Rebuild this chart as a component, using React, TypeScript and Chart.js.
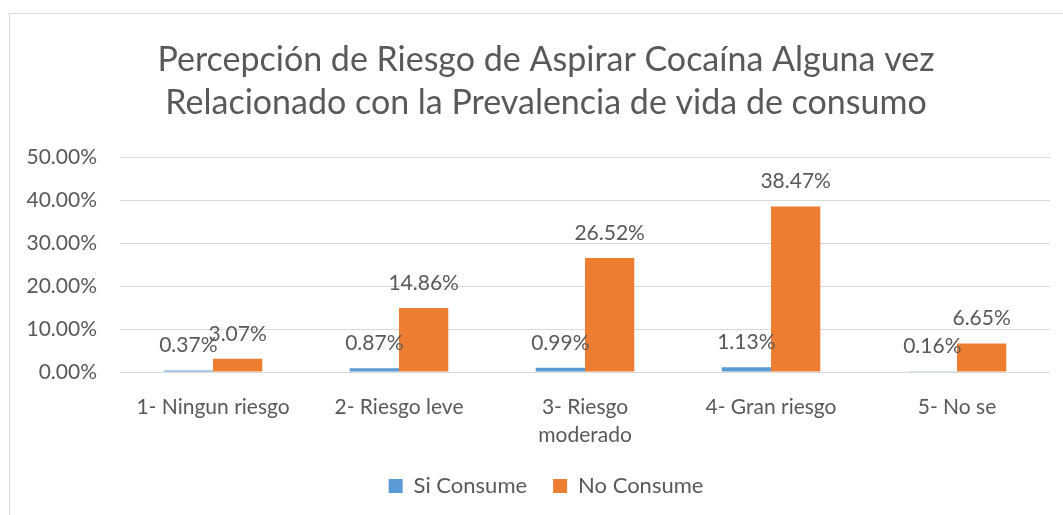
import React, { useEffect, useRef } from "react";
import { Chart, registerables } from "chart.js";

Chart.register(...registerables);

const categories: (string | string[])[] = [
  "1- Ningun riesgo",
  "2- Riesgo leve",
  ["3- Riesgo", "moderado"],
  "4- Gran riesgo",
  "5- No se",
];
const siConsume = [0.37, 0.87, 0.99, 1.13, 0.16];
const noConsume = [3.07, 14.86, 26.52, 38.47, 6.65];
const seriesNames = ["Si Consume", "No Consume"];
const titleLines = [
  "Percepción de Riesgo de Aspirar Cocaína Alguna vez",
  "Relacionado con la Prevalencia de vida de consumo",
];
const yMin = 0;
const yMax = 50;
const yStep = 10;

const FONT = "Lato, 'Open Sans', sans-serif";
const TEXT = "#595959";
const GRID = "#d9d9d9";
const BLUE = "#5B9BD5";
const ORANGE = "#ED7D31";

const valueLabels = {
  id: "valueLabels",
  afterDatasetsDraw(chart: any) {
    const ctx = chart.ctx;
    ctx.save();
    ctx.font = `21px ${FONT}`;
    ctx.fillStyle = TEXT;
    ctx.textAlign = "center";
    ctx.textBaseline = "middle";
    chart.data.datasets.forEach((ds: any, di: number) => {
      const meta = chart.getDatasetMeta(di);
      meta.data.forEach((el: any, i: number) => {
        ctx.fillText(`${Number(ds.data[i]).toFixed(2)}%`, el.x, el.y - 25);
      });
    });
    ctx.restore();
  },
};

export default function App() {
  const ref = useRef<HTMLCanvasElement | null>(null);

  useEffect(() => {
    if (!ref.current) return;
    const chart = new Chart(ref.current, {
      type: "bar",
      data: {
        labels: categories as any,
        datasets: [
          {
            label: seriesNames[0],
            data: siConsume,
            backgroundColor: BLUE,
            categoryPercentage: 0.53,
            barPercentage: 1,
          },
          {
            label: seriesNames[1],
            data: noConsume,
            backgroundColor: ORANGE,
            categoryPercentage: 0.53,
            barPercentage: 1,
          },
        ],
      },
      options: {
        responsive: false,
        animation: false,
        layout: { padding: { left: 10, right: 10, top: 0, bottom: 10 } },
        plugins: {
          title: {
            display: true,
            text: titleLines,
            color: TEXT,
            font: { family: FONT, size: 34, weight: "normal" as any, lineHeight: 43 / 34 },
            padding: { top: 24.5, bottom: 32.5 },
          },
          legend: {
            position: "bottom",
            labels: {
              color: TEXT,
              font: { family: FONT, size: 22 },
              boxWidth: 14,
              boxHeight: 14,
              padding: 26,
            },
          },
          tooltip: { enabled: false },
        },
        scales: {
          x: {
            grid: { display: false, drawTicks: false },
            border: { display: false },
            ticks: {
              color: TEXT,
              font: { family: FONT, size: 21, lineHeight: 28 / 21 },
              maxRotation: 0,
              autoSkip: false,
              padding: 21,
            },
            afterFit: (s: any) => {
              s.height = 77;
            },
          },
          y: {
            min: yMin,
            max: yMax,
            grid: { color: GRID, lineWidth: 1, drawTicks: false },
            border: { display: false },
            ticks: {
              stepSize: yStep,
              color: TEXT,
              font: { family: FONT, size: 21 },
              padding: 23,
              callback: (v: any) => `${Number(v).toFixed(2)}%`,
            },
            afterFit: (s: any) => {
              s.width = 100;
            },
          },
          yRight: {
            position: "right",
            min: yMin,
            max: yMax,
            grid: { display: false, drawTicks: false },
            border: { display: false },
            ticks: { display: false },
            afterFit: (s: any) => {
              s.width = 22;
            },
          },
        },
      },
      plugins: [valueLabels],
    });
    return () => chart.destroy();
  }, []);

  return (
    <div
      style={{
        position: "fixed",
        left: 9,
        top: 13,
        width: 1074,
        height: 505,
        border: `1px solid ${GRID}`,
        boxSizing: "border-box",
        background: "#fff",
      }}
    >
      <canvas
        ref={ref}
        width={1072}
        height={503}
        style={{ position: "absolute", left: 0, top: 0, width: 1072, height: 503 }}
      />
    </div>
  );
}
